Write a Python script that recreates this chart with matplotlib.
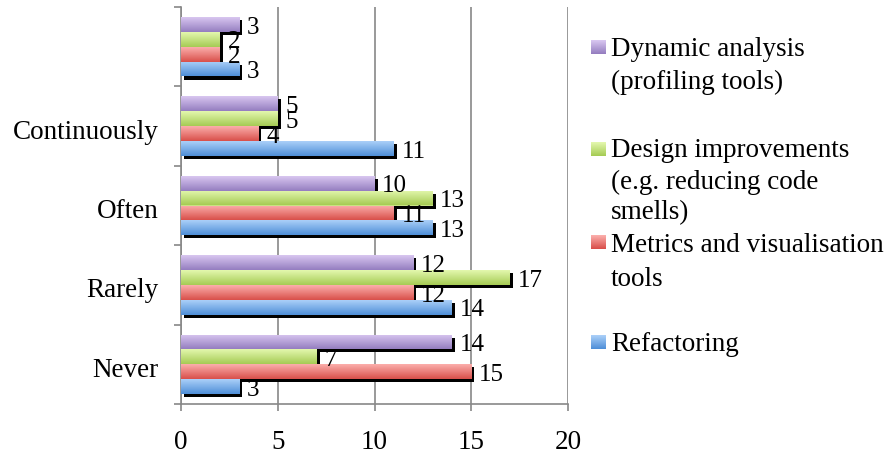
import numpy as np
import matplotlib
matplotlib.use("Agg")
import matplotlib.pyplot as plt
import matplotlib.patheffects as pe
import matplotlib.transforms as mtransforms
from matplotlib.colors import to_rgb

plt.rcParams['font.family'] = ['Liberation Serif', 'DejaVu Serif']

categories = ["Never", "Rarely", "Often", "Continuously", ""]
series_names = ["Refactoring", "Metrics and visualisation\ntools",
                "Design improvements\n(e.g. reducing code\nsmells)",
                "Dynamic analysis\n(profiling tools)"]
refactoring = [3, 14, 13, 11, 3]
metrics = [15, 12, 11, 4, 2]
design = [7, 17, 13, 5, 2]
dynamic = [14, 12, 10, 5, 3]
series = [refactoring, metrics, design, dynamic]
x_ticks = [0, 5, 10, 15, 20]

light = ["#aacff8", "#fbaeab", "#e3f7ad", "#d8c6f0"]
dark = ["#4f8fd8", "#d9504b", "#a6cc55", "#957ec0"]
mid = ["#7db0ea", "#ee7f7b", "#c7e383", "#b7a2da"]

fig = plt.figure(figsize=(8.86, 4.62), dpi=100)
ax = fig.add_axes([181/886, 1-404/462, (568-181)/886, (404-7)/462])

bh = 0.1875
n = len(series)
for i, vals in enumerate(series):
    offs = (i - (n-1)/2) * bh
    ypos = np.arange(len(categories)) + offs
    bars = ax.barh(ypos, vals, height=bh, color=mid[i], zorder=3,
                   path_effects=[pe.SimplePatchShadow(offset=(2.2, -2.2), shadow_rgbFace='k', alpha=1.0),
                                 pe.Normal()])
    c0 = np.array(to_rgb(dark[i])); c1 = np.array(to_rgb(light[i]))
    t = np.linspace(0, 1, 32)[:, None, None]
    grad = c0 * (1 - t) + c1 * t
    for b, v, y in zip(bars, vals, ypos):
        x0, y0 = b.get_x(), b.get_y()
        im = ax.imshow(grad, extent=[x0, x0 + b.get_width(), y0, y0 + b.get_height()],
                       origin='lower', aspect='auto', zorder=4, interpolation='bilinear')
        im.set_clip_path(b)
        ax.text(v + 0.4, y - 0.04, str(v), va='center', ha='left', fontsize=18, zorder=5)

ax.set_xlim(0, 20)
ax.set_ylim(-0.5, len(categories) - 0.5)
ax.set_aspect('auto')
ax.set_xticks(x_ticks)
ax.set_xticklabels([str(v) for v in x_ticks], fontsize=19.5)
ax.set_yticks(np.arange(-0.5, len(categories), 1.0))
ax.set_yticklabels([])
ax.set_yticks(np.arange(len(categories)), minor=True)
ax.set_yticklabels(categories, minor=True, fontsize=19.5)
ax.tick_params(axis='y', which='minor', length=0, pad=16)
ax.tick_params(axis='y', which='major', length=5, width=1.2, color='#888888', direction='out')
ax.tick_params(axis='x', length=5, width=1.2, color='#888888', direction='out', pad=14)
shift = mtransforms.ScaledTranslation(0, -3/100, fig.dpi_scale_trans)
for lab in ax.get_yticklabels(minor=True):
    lab.set_transform(lab.get_transform() + shift)
ax.grid(axis='x', color='#888888', linewidth=1.2, zorder=0)
ax.set_axisbelow(True)
for s in ['top', 'right']:
    ax.spines[s].set_visible(False)
for s in ['left', 'bottom']:
    ax.spines[s].set_color('#888888')
    ax.spines[s].set_linewidth(1.2)

# legend (manual)
leg_order = [3, 2, 1, 0]
baselines = [[56, 89], [157, 189, 219], [252, 286], [351]]
sq_tops = [40, 142, 235, 335]
W, H = 886, 462
for k, si in enumerate(leg_order):
    lines = series_names[si].split("\n")
    t = sq_tops[k]
    c0 = np.array(to_rgb(dark[si])); c1 = np.array(to_rgb(light[si]))
    rax = fig.add_axes([591/W, 1-(t+14)/H, 15/W, 14/H])
    tt = np.linspace(0, 1, 16)[:, None, None]
    rax.imshow(c0 * (1 - tt) + c1 * tt, origin='lower', aspect='auto', extent=[0, 1, 0, 1])
    rax.axis('off')
    for ln, by in zip(lines, baselines[k]):
        fig.text(611/W, 1-by/H, ln, fontsize=19.5, va='baseline', ha='left')

fig.savefig("out.png", dpi=100)
